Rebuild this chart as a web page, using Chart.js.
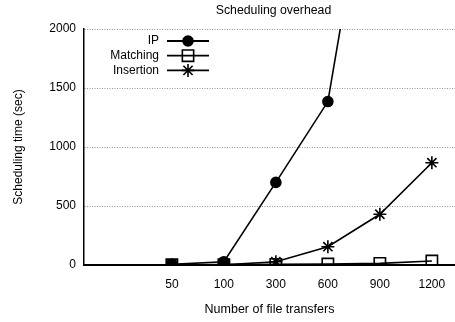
<!DOCTYPE html>
<html>
<head>
<meta charset="utf-8">
<script src="https://cdn.jsdelivr.net/npm/chart.js@4/dist/chart.umd.min.js"></script>
<style>
  html, body { margin: 0; padding: 0; background: #fff; }
  #wrap { width: 455px; height: 322px; }
</style>
</head>
<body>
<div id="wrap"><canvas id="myChart" width="455" height="322"></canvas></div>
<script>
var xLabels = ["50", "100", "300", "600", "900", "1200"];
var ipTimes = [5, 28, 700, 1385, 3970];
var matchingTimes = [2, 3, 5, 8, 14, 34];
var insertionTimes = [1, 2, 28, 155, 430, 867];
var yTicks = [0, 500, 1000, 1500, 2000];

function toPoints(arr) {
  return arr.map((v, i) => ({ x: i + 1, y: v }));
}

var font = "'Liberation Sans', Arial, Helvetica, sans-serif";
var titleText = "Scheduling overhead";

// title centred over the plot area, not the whole canvas
var plotTitle = {
  id: "plotTitle",
  afterDraw(chart) {
    var ctx = chart.ctx;
    var area = chart.chartArea;
    ctx.save();
    ctx.fillStyle = "#000";
    ctx.font = "12.3px " + font;
    ctx.textAlign = "center";
    ctx.textBaseline = "middle";
    ctx.fillText(titleText, (area.left + area.right) / 2 + 4, 11);
    ctx.restore();
  }
};

// legend drawn inside the plot: label on the left, line + marker on the right
var insideLegend = {
  id: "insideLegend",
  afterDatasetsDraw(chart) {
    var ctx = chart.ctx;
    var area = chart.chartArea;
    ctx.save();
    chart.data.datasets.forEach((ds, i) => {
      var y = area.top + 12 + i * 14.7;
      var mx = area.left + 104;
      ctx.fillStyle = "#000";
      ctx.font = "12px " + font;
      ctx.textAlign = "right";
      ctx.textBaseline = "middle";
      ctx.fillText(ds.label, area.left + 75, y);
      ctx.strokeStyle = "#000";
      ctx.lineWidth = 1.8;
      ctx.beginPath();
      ctx.moveTo(area.left + 83, y);
      ctx.lineTo(area.left + 125, y);
      ctx.stroke();
      ctx.fillStyle = ds.pointBackgroundColor;
      ctx.strokeStyle = "#000";
      ctx.lineWidth = ds.pointBorderWidth;
      Chart.helpers.drawPoint(ctx, {
        pointStyle: ds.pointStyle,
        radius: ds.pointRadius,
        borderWidth: ds.pointBorderWidth
      }, mx, y);
    });
    ctx.restore();
  }
};

document.addEventListener("DOMContentLoaded", function(e) {
  var ctx = document.getElementById("myChart");

  var common = {
    borderColor: "#000",
    borderWidth: 1.6,
    pointBorderColor: "#000",
    pointBorderWidth: 1.6,
    tension: 0,
    fill: false
  };

  var myChart = new Chart(ctx, {
    type: "line",
    data: {
      datasets: [
        Object.assign({}, common, {
          label: "IP",
          data: toPoints(ipTimes),
          pointStyle: "circle",
          pointRadius: 5,
          pointBackgroundColor: "#000"
        }),
        Object.assign({}, common, {
          label: "Matching",
          data: toPoints(matchingTimes),
          pointStyle: "rect",
          pointRadius: 8,
          pointBackgroundColor: "transparent"
        }),
        Object.assign({}, common, {
          label: "Insertion",
          data: toPoints(insertionTimes),
          pointStyle: "star",
          pointRadius: 6.5,
          pointBackgroundColor: "transparent"
        })
      ]
    },
    options: {
      responsive: false,
      animation: false,
      layout: {
        autoPadding: false,
        padding: { left: 0, right: 0, top: 29, bottom: 0 }
      },
      plugins: {
        legend: { display: false },
        tooltip: { enabled: false },
        title: { display: false }
      },
      scales: {
        x: {
          type: "linear",
          min: -0.69,
          max: 6.445,
          afterBuildTicks: function(scale) {
            scale.ticks = xLabels.map((l, i) => ({ value: i + 1 }));
          },
          afterFit: function(scale) {
            scale.height = 57;
            scale.paddingLeft = 0;
            scale.paddingRight = 0;
          },
          ticks: {
            autoSkip: false,
            maxRotation: 0,
            color: "#000",
            padding: 12,
            font: { family: font, size: 12 },
            callback: function(v) { return xLabels[v - 1]; }
          },
          grid: { display: false, drawTicks: false },
          border: { color: "#000", width: 2 },
          title: {
            display: true,
            text: "Number of file transfers",
            color: "#000",
            font: { family: font, size: 12.5 },
            padding: { top: 0, bottom: 5 }
          }
        },
        y: {
          min: 0,
          max: 2000,
          afterBuildTicks: function(scale) {
            scale.ticks = yTicks.map(v => ({ value: v }));
          },
          afterFit: function(scale) {
            scale.width = 84;
            scale.paddingTop = 0;
            scale.paddingBottom = 0;
          },
          ticks: {
            color: "#000",
            padding: 8,
            font: { family: font, size: 12 },
            callback: function(v) { return String(v); }
          },
          grid: {
            color: "#777",
            lineWidth: 0.8,
            drawTicks: false
          },
          border: { color: "#000", width: 1.5, dash: [1, 1.5] },
          title: {
            display: true,
            text: "Scheduling time (sec)",
            color: "#000",
            font: { family: font, size: 12 },
            padding: { top: 11, bottom: 0 }
          }
        }
      }
    },
    plugins: [insideLegend, plotTitle]
  });
});
</script>
</body>
</html>
